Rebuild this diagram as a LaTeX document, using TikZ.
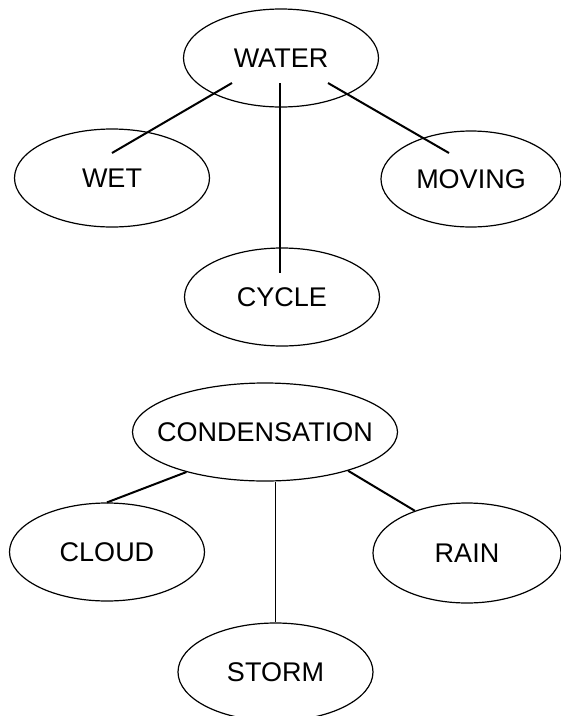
\documentclass[tikz,border=0pt]{standalone}
\usepackage{fontspec}
\setmainfont{Liberation Sans}
\usetikzlibrary{shapes.geometric}

\tikzset{
  bubble/.style={draw, ellipse, line width=1.2pt, inner sep=0pt,
    minimum width=195pt, minimum height=98pt,
    label={[font=\fontsize{27}{32}\selectfont]center:#1}},
  branch/.style={line width=2pt},
  stem/.style={line width=1.1pt},
}

\begin{document}
\begin{tikzpicture}[x=1pt, y=-1pt]
  \useasboundingbox (0,0) rectangle (561,716);

  % ----- Upper cluster -----
  \node[bubble=WATER] (water) at (281,58) {};
  \node[bubble=WET] (wet) at (112,178) {};
  \node[bubble=MOVING, minimum width=180pt, minimum height=96pt] (moving) at (471,179) {};
  \node[bubble=CYCLE] (cycle) at (282,297) {};

  \draw[branch] ([shift={(-49,25)}]water.center) -- ([shift={(0,-25)}]wet.center);
  \draw[stem] ([shift={(-1,25)}]water.center) -- ([shift={(-2,-24)}]cycle.center);
  \draw[branch] ([shift={(47,25)}]water.center) -- ([shift={(-22,-26)}]moving.center);

  % ----- Lower cluster -----
  \node[bubble=CONDENSATION, minimum width=265pt] (cond) at (265,432) {};
  \node[bubble=CLOUD] (cloud) at (107,552) {};
  \node[bubble=RAIN, minimum width=188pt, minimum height=100pt] (rain) at (467,553) {};
  \node[bubble=STORM] (storm) at (275.5,672) {};

  \draw[branch] (cond.207) -- (cloud.north);
  \draw[stem] (cond.south -| storm.north) -- (storm.north);
  \draw[branch] (cond.335) -- (rain.141);
\end{tikzpicture}
\end{document}
